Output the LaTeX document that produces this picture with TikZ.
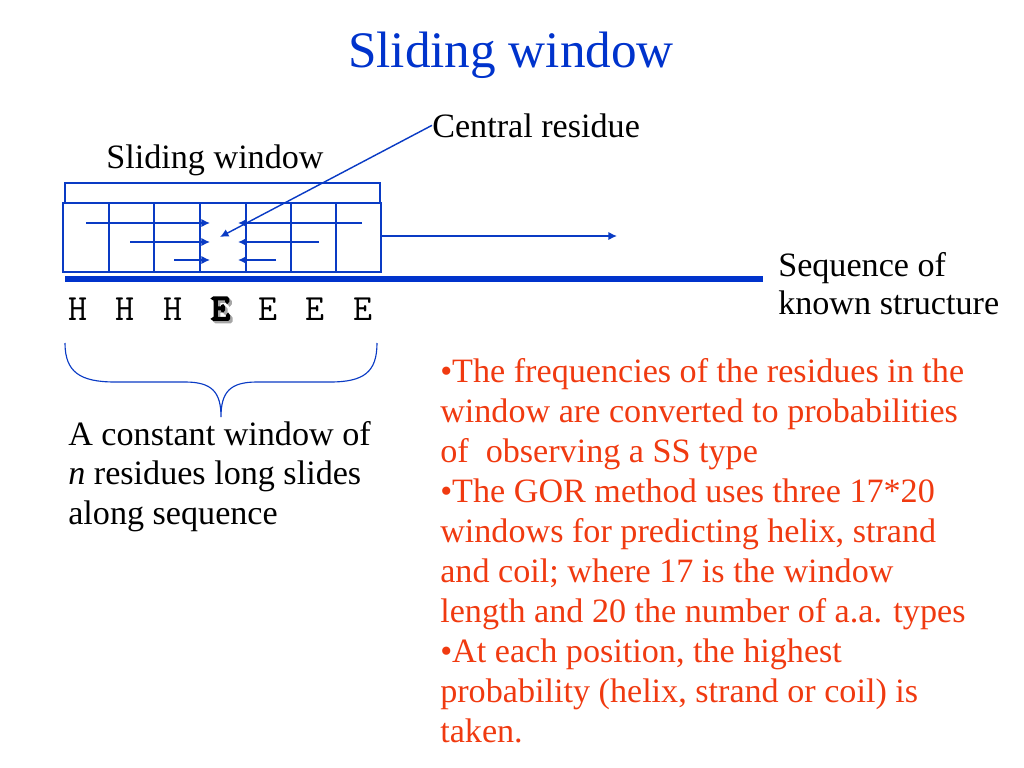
\documentclass[tikz,border=0pt]{standalone}
\usepackage{fontspec}
\setmainfont{Liberation Serif}
\newfontfamily\heavymono[FakeBold=5]{Latin Modern Mono}
\usepackage[HTML]{xcolor}
\usepackage{tikz}
\usetikzlibrary{positioning, arrows.meta}
\definecolor{titleblue}{HTML}{0033CC}
\definecolor{lineblue}{HTML}{0A3BC4}
\definecolor{notered}{HTML}{F03A10}

\begin{document}
\begin{tikzpicture}[x=0.703pt,y=-0.703pt,
  txt/.style={font=\fontsize{24}{27.4}\selectfont,inner sep=0pt,align=left},
  cellline/.style={lineblue,line width=1.2pt},
  slide/.style={-{Latex[length=6pt,width=5.8pt]},lineblue,line width=1pt}]
\useasboundingbox (0,0) rectangle (1024,768);

\node[font=\fontsize{36}{40}\selectfont,text=titleblue,anchor=base,inner sep=0pt] (title) at (511,67) {Sliding window};

% the window and its cells
\node[txt,anchor=base] (winlabel) at (215,168) {Sliding window};
\draw[lineblue,line width=0.8pt] (65,203) -- (65,183) -- (380,183) -- (380,203);
\node[draw=lineblue,line width=1.4pt,minimum width=223.5pt,minimum height=48.5pt,inner sep=0pt] (win) at (222,237.5) {};
\foreach \x in {109,154,200,246,291,336}
  \draw[cellline] (\x,203) -- (\x,272);

% residues sliding towards the centre
\foreach \y/\l/\r in {223/86/362, 242/130/319, 260/174/276} {
  \coordinate (l\y) at (\l,\y);
  \coordinate (r\y) at (\r,\y);
  \coordinate (cl\y) at (210,\y);
  \coordinate (cr\y) at (238,\y);
  \draw[slide] (l\y) -- (cl\y);
  \draw[slide] (r\y) -- (cr\y);
}

\node[txt,anchor=base west] (central) at (432,137) {Central residue};
\coordinate (centretip) at (220,237);
\draw[slide] (central.west) -- (centretip);

\coordinate (moveto) at (617,236);
\draw[slide] (win.east |- moveto) -- (moveto);

% sequence of known structure
\coordinate (seqstart) at (65,279);
\coordinate (seqend) at (763,279);
\draw[titleblue,line width=4.2pt] (seqstart) -- (seqend);
\node[txt,anchor=base west,font=\fontsize{24}{26.7}\selectfont] (seqlabel) at (778,314) {Sequence of\\known structure};

\foreach \c [count=\i from 0] in {H,H,H,E,E,E,E} {
  \ifnum\i=3
    \node[font=\fontsize{26}{30}\selectfont\heavymono,text=black!35,anchor=base,inner sep=0pt] at (78+\i*47.5+2.5,320+2.5) {\c};
    \node[font=\fontsize{26}{30}\selectfont\heavymono,anchor=base,inner sep=0pt] (res\i) at (78+\i*47.5,320) {\c};
  \else
    \node[font=\fontsize{26}{30}\selectfont\ttfamily,anchor=base,inner sep=0pt] (res\i) at (78+\i*47.5,320) {\c};
  \fi
}

% brace under the window
\draw[lineblue,line width=0.8pt] (65,343) .. controls (65,372) and (80,382) .. (115,382)
  -- (185,382) .. controls (212,382) and (221,392) .. (221,417)
  .. controls (221,392) and (230,382) .. (257,382)
  -- (330,382) .. controls (364,382) and (377,372) .. (377,343);

\node[txt,anchor=base west,font=\fontsize{24}{27.6}\selectfont] (windesc) at (68,524)
  {A constant window of\\\textit{n} residues long slides\\along sequence};

\node[txt,anchor=base west,text=notered,font=\fontsize{24}{28.05}\selectfont] (notes) at (440,742)
  {•The frequencies of the residues in the\\
   window are converted to probabilities\\
   of~~observing a SS type\\
   •The GOR method uses three 17*20\\
   windows for predicting helix, strand\\
   and coil; where 17 is the window\\
   length and 20 the number of a.a. types\\
   •At each position, the highest\\
   probability (helix, strand or coil) is\\
   taken.};
\end{tikzpicture}
\end{document}
